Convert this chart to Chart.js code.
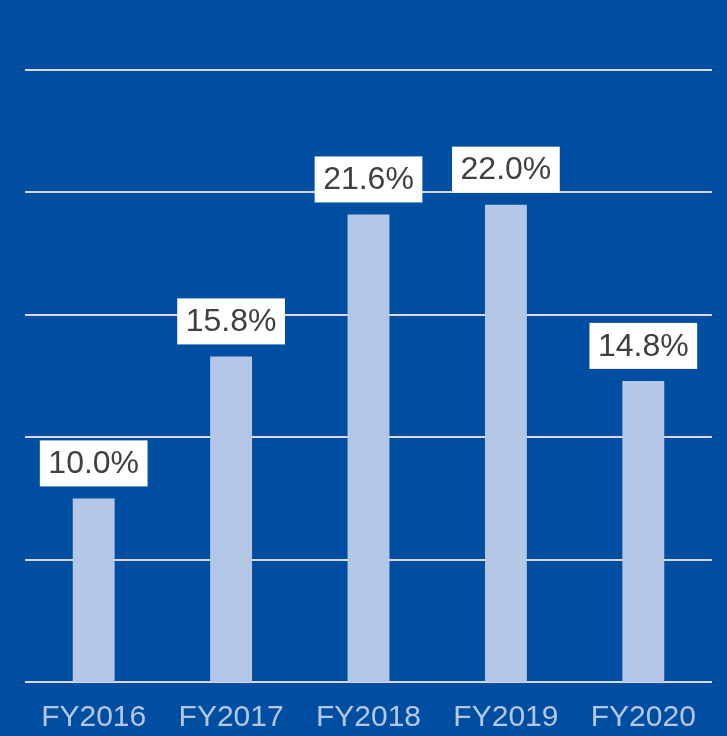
<!DOCTYPE html>
<html>
<head>
<meta charset="utf-8">
<script src="https://cdn.jsdelivr.net/npm/chart.js@4.4.1/dist/chart.umd.min.js"></script>
<style>
    html, body { margin: 0; padding: 0; background: #004ea2; }
    #wrap { width: 727px; height: 736px; }
</style>
</head>
<body>
<div id="wrap"><canvas id="barChart"></canvas></div>
<script>
const anos = ['FY2016', 'FY2017', 'FY2018', 'FY2019', 'FY2020'];
const valores = [10.0, 15.8, 21.6, 22.0, 14.8];
const marcasY = [2.5, 7.5, 12.5, 17.5, 22.5, 27.5];

// caixas brancas com o valor em cima de cada barra
const rotulos = {
    id: 'rotulos',
    afterDatasetsDraw(chart) {
        const ctx = chart.ctx;
        const meta = chart.getDatasetMeta(0);
        ctx.save();
        ctx.font = '32px "Liberation Sans", Arial, sans-serif';
        ctx.textAlign = 'center';
        ctx.textBaseline = 'middle';
        meta.data.forEach((bar, i) => {
            const txt = valores[i].toFixed(1) + '%';
            const w = ctx.measureText(txt).width + 17;
            const h = 46;
            const base = bar.y - 12;
            ctx.fillStyle = '#ffffff';
            ctx.fillRect(bar.x - w / 2, base - h, w, h);
            ctx.fillStyle = '#404040';
            ctx.fillText(txt, bar.x, base - h / 2 + 1);
        });
        ctx.restore();
    }
};

new Chart(document.getElementById('barChart'), {
    type: 'bar',
    data: {
        labels: anos,
        datasets: [{
            data: valores,
            backgroundColor: '#b4c7e7',
            categoryPercentage: 1,
            barPercentage: 0.305
        }]
    },
    options: {
        responsive: true,
        maintainAspectRatio: false,
        animation: false,
        layout: { padding: { left: 25, right: 15, top: 70, bottom: 0 } },
        scales: {
            x: {
                grid: { display: false, drawTicks: false },
                border: { display: false },
                afterFit: (scale) => { scale.height = 54; },
                ticks: {
                    color: '#b4c7e7',
                    padding: 18,
                    font: { family: '"Liberation Sans", Arial, sans-serif', size: 30 }
                }
            },
            y: {
                min: 2.5,
                max: 27.5,
                afterBuildTicks: (scale) => {
                    scale.ticks = marcasY.map(v => ({ value: v }));
                },
                grid: { color: '#d9d9d9', lineWidth: 2, drawTicks: false },
                border: { display: false },
                ticks: { display: false }
            }
        },
        plugins: {
            legend: { display: false },
            tooltip: { enabled: false }
        }
    },
    plugins: [rotulos]
});
</script>
</body>
</html>
